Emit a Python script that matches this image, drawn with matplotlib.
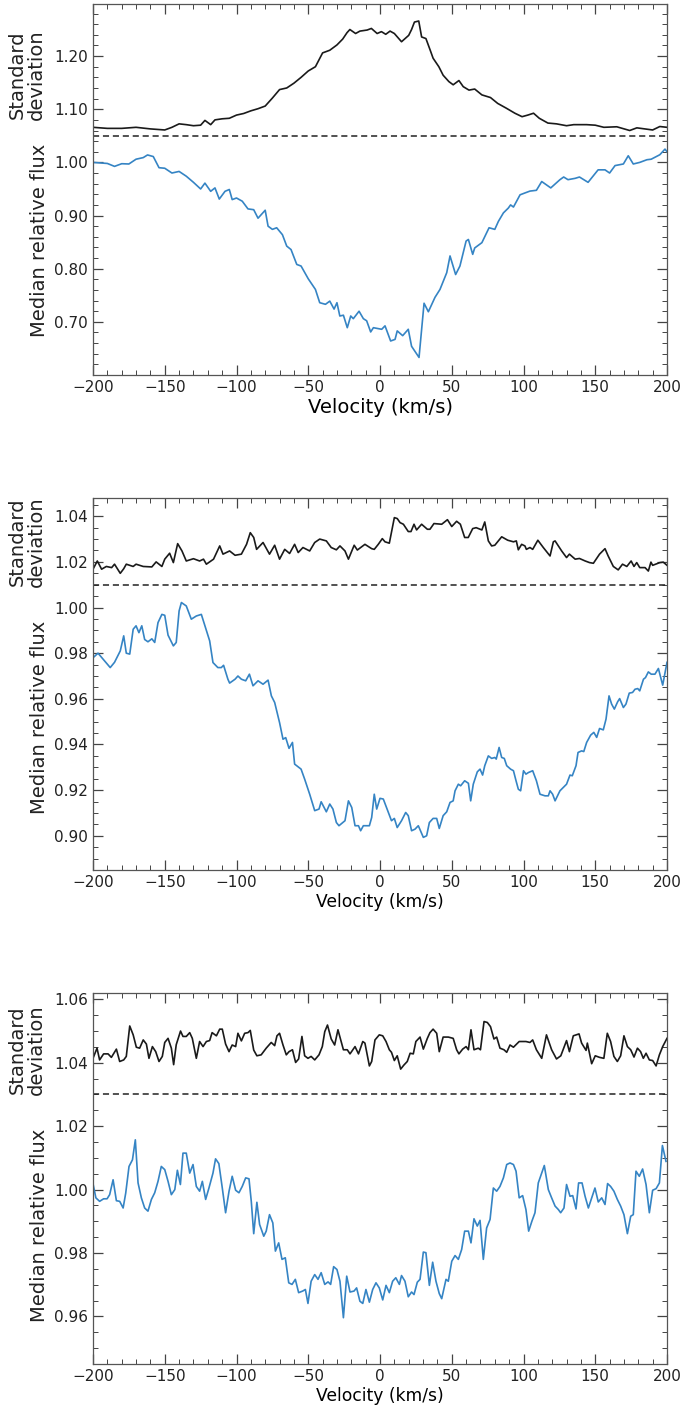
import numpy as np
import matplotlib.pyplot as plt
from matplotlib.ticker import MultipleLocator, FormatStrFormatter

# ---- line 1 ----
v1_std = [-200, -190, -180, -170, -160, -150, -145, -140, -135, -130, -125, -122, -118, -115,
          -110, -105, -100, -95, -90, -85, -80, -75, -70, -65, -60, -55, -50, -45, -40, -35,
          -30, -26, -23, -21, -17, -14, -9, -6, -2, 1, 4, 7, 10, 15, 20, 22, 24, 27, 29,
          32, 35, 37, 41, 44, 48, 51, 55, 58, 62, 66, 71, 77, 82, 88, 94, 99, 103, 107,
          111, 117, 123, 130, 135, 144, 150, 156, 165, 174, 179, 190, 195, 200]
std1 = [1.066, 1.064, 1.064, 1.066, 1.063, 1.061, 1.066, 1.0725, 1.071, 1.069, 1.070, 1.079, 1.071, 1.080,
        1.082, 1.083, 1.089, 1.092, 1.097, 1.101, 1.106, 1.121, 1.137, 1.140, 1.149, 1.160, 1.172, 1.180, 1.206, 1.211,
        1.221, 1.232, 1.244, 1.250, 1.2425, 1.247, 1.249, 1.252, 1.2425, 1.246, 1.241, 1.247, 1.2425, 1.227, 1.239, 1.250, 1.264, 1.266, 1.236,
        1.233, 1.211, 1.196, 1.180, 1.164, 1.152, 1.146, 1.154, 1.1425, 1.136, 1.138, 1.127, 1.122, 1.111, 1.102, 1.0925, 1.086, 1.089, 1.0925,
        1.083, 1.074, 1.0725, 1.069, 1.071, 1.071, 1.070, 1.066, 1.067, 1.060, 1.065, 1.061, 1.0675, 1.066]

v1_flux = [-200, -195, -190, -185, -180, -175, -170, -165, -162, -158, -154, -150, -145, -140, -135,
           -130, -125, -122, -118, -115, -112, -108, -105, -103, -100, -96, -92, -88, -85, -80,
           -78, -75, -72, -68, -65, -62, -58, -55, -50, -45, -42, -38, -35, -32, -30, -28,
           -25.5, -22.8, -20.4, -18.6, -14.6, -11.6, -9.3, -6.5, -4.6, 1.2, 3.5, 7.4, 10.5, 12,
           15.8, 19.7, 22, 27.2, 30.7, 33.7, 38.3, 41.8, 46.5, 48.8, 52.7, 55.7, 60, 61.6, 64.6,
           66, 71, 76, 80, 82.5, 86, 89.4, 91, 93, 97.6, 101, 104.5, 109, 112.7, 119, 125.4,
           128, 131, 136, 139, 145, 152, 156.8, 160, 163.8, 169.6, 173, 176.5, 181, 186, 189,
           195, 198.6, 200]
flux1 = [1.000, 0.999, 0.998, 0.9925, 0.9975, 0.997, 1.006, 1.009, 1.014, 1.011, 0.990, 0.989, 0.980, 0.983, 0.974,
         0.9625, 0.950, 0.961, 0.9456, 0.952, 0.931, 0.9456, 0.949, 0.930, 0.933, 0.927, 0.9125, 0.911, 0.895, 0.910,
         0.880, 0.874, 0.877, 0.864, 0.8425, 0.836, 0.808, 0.805, 0.781, 0.761, 0.736, 0.733, 0.739, 0.724, 0.736, 0.711,
         0.7125, 0.689, 0.711, 0.706, 0.720, 0.706, 0.702, 0.681, 0.689, 0.686, 0.6925, 0.664, 0.667, 0.683,
         0.674, 0.686, 0.654, 0.633, 0.735, 0.719, 0.746, 0.761, 0.7925, 0.824, 0.789, 0.805, 0.852, 0.855, 0.827,
         0.839, 0.849, 0.877, 0.874, 0.889, 0.905, 0.914, 0.920, 0.916, 0.939, 0.9425, 0.946, 0.9475, 0.964, 0.952, 0.9675,
         0.9725, 0.9675, 0.970, 0.9725, 0.9625, 0.986, 0.986, 0.980, 0.994, 0.997, 1.0125, 0.997, 1.000, 1.005, 1.006,
         1.0144, 1.025, 1.020]

# ---- line 2 ----
v2_std = [-200, -197, -194, -190.7, -187, -185, -181, -178.6, -176.8, -172, -170, -165, -159, -156,
          -152, -150, -146.6, -144, -141, -138, -135, -130, -125.7, -123, -121, -116, -111.7,
          -109.4, -104.8, -101, -96.6, -93, -90.4, -88, -86, -81.5, -77, -73.4, -70, -66.4,
          -63, -59.5, -57, -53.7, -49, -45.5, -42, -37.4, -34, -30.4, -27.9, -24.4, -22, -18,
          -15.8, -10.5, -5.8, -4, -1.2, 1.6, 3.5, 6.5, 10, 12, 14, 16.3, 19.7, 21.6, 23.7, 25.5,
          29, 33, 34.8, 37.6, 43, 47, 50, 53.4, 56, 59, 61.5, 64.6, 67, 71, 73, 75.5, 77.8, 80,
          84.8, 89, 93, 95, 96.4, 98.7, 101, 102, 104.5, 106.4, 110, 113.8, 118.5, 120.8, 122,
          126.6, 130, 132, 136, 139, 143, 146, 148.7, 151, 153, 156.8, 159, 162.6, 166, 169, 172,
          175, 177, 178.9, 181, 184.7, 187, 188.8, 190, 195, 197.4, 200]
std2 = [1.0168, 1.0204, 1.0168, 1.018, 1.0175, 1.019, 1.015, 1.0170, 1.019, 1.018, 1.019, 1.018, 1.0178, 1.020,
        1.018, 1.0212, 1.0238, 1.0197, 1.028, 1.0248, 1.0204, 1.0214, 1.0204, 1.0212, 1.019, 1.0212, 1.027,
        1.0234, 1.0248, 1.0229, 1.0234, 1.0277, 1.0328, 1.0307, 1.0255, 1.0285, 1.0234, 1.0273, 1.0212, 1.0255,
        1.0237, 1.0277, 1.0241, 1.0263, 1.0248, 1.0285, 1.030, 1.0292, 1.0263, 1.0253, 1.027, 1.0248, 1.0212, 1.0273,
        1.0252, 1.0277, 1.0258, 1.0255, 1.0277, 1.0302, 1.0288, 1.0282, 1.0394, 1.039, 1.0372, 1.0365, 1.0333, 1.0333, 1.0365, 1.034,
        1.0365, 1.0343, 1.0343, 1.0368, 1.0365, 1.0385, 1.0355, 1.0378, 1.0365, 1.0307, 1.0307, 1.0346, 1.035, 1.034, 1.0375, 1.0292, 1.027, 1.0273,
        1.031, 1.0295, 1.0288, 1.0292, 1.0253, 1.0277, 1.027, 1.0255, 1.0263, 1.0255, 1.0295, 1.0263, 1.0226, 1.0288, 1.0292,
        1.0248, 1.0219, 1.0234, 1.0212, 1.0215, 1.0204, 1.0197, 1.0194, 1.0215, 1.0234, 1.0258, 1.0226, 1.018, 1.0165, 1.019, 1.018,
        1.0204, 1.018, 1.0197, 1.0175, 1.0175, 1.016, 1.0199, 1.0185, 1.0197, 1.0199, 1.0185]

v2_flux = [-200, -196.5, -193, -188, -185, -181, -178.6, -176.8, -174.4, -172, -170, -168, -166,
           -164, -161.7, -159, -157, -154.7, -152, -150, -147.7, -144, -142, -140, -138.4, -135,
           -131.5, -128, -124.5, -122, -118.7, -116.4, -113, -110.6, -109, -106, -104.8, -101,
           -99, -96.6, -93.6, -91, -88.5, -85, -81.5, -78, -75.7, -73.4, -70, -67.6, -65.7,
           -63.4, -61, -59.5, -55, -52.5, -49, -45.5, -42.5, -41, -37.4, -35, -32.8, -30.4,
           -28.6, -24.4, -22, -19.7, -17.4, -15, -13.5, -11.6, -7.4, -5.8, -4, -2.3, 0, 2.3,
           5.8, 8, 10, 12, 15, 17.9, 19.7, 22, 24.4, 26.7, 30.2, 32.5, 34.4, 37, 39.5, 41.3,
           44, 46.5, 48.8, 51, 52.3, 54.6, 56.2, 59, 61.6, 63.2, 65, 67.8, 69.7, 71.5, 73, 75.5,
           77.8, 80, 81, 83, 84.8, 86.6, 88.3, 91, 93, 94.8, 96.4, 98, 100, 101.7, 103.4, 106.4,
           109, 111.5, 115, 117.3, 118.5, 120.3, 122, 125.4, 127.8, 130, 132.4, 134, 136.6, 138,
           140.5, 142, 144, 146.8, 149, 151, 153, 155.6, 157.5, 159.6, 161.4, 163.3, 165.6, 167,
           169.6, 171.4, 173.7, 176, 177.7, 179.6, 181, 183.6, 185, 187, 189, 191.6, 194, 197, 200]
flux2 = [0.978, 0.980, 0.9774, 0.9737, 0.976, 0.981, 0.9876, 0.980, 0.9796, 0.9905, 0.992, 0.989, 0.992,
         0.986, 0.985, 0.9863, 0.9847, 0.9934, 0.997, 0.9966, 0.9879, 0.9832, 0.9847, 0.9985, 1.0022, 1.0007,
         0.9949, 0.9963, 0.997, 0.992, 0.9854, 0.9759, 0.9737, 0.9737, 0.9747, 0.9686, 0.9669, 0.9686,
         0.970, 0.9686, 0.9679, 0.9708, 0.9657, 0.9679, 0.9664, 0.9682, 0.9613, 0.9584, 0.9496, 0.9423, 0.9430,
         0.9383, 0.9409, 0.9314, 0.9292, 0.9248, 0.9182, 0.911, 0.9117, 0.9149, 0.9105, 0.9139, 0.9117, 0.9058,
         0.9044, 0.9066, 0.9153, 0.9124, 0.9044, 0.9044, 0.9022, 0.9044, 0.9044, 0.908, 0.9182, 0.9117, 0.9164, 0.9161,
         0.9102, 0.9066, 0.9076, 0.9036, 0.9066, 0.9102, 0.9088, 0.9022, 0.9029, 0.9044, 0.8993, 0.9000, 0.9058, 0.9076, 0.9076, 0.9032,
         0.9088, 0.9105, 0.9146, 0.9153, 0.9197, 0.9226, 0.9219, 0.9241, 0.9230, 0.9153, 0.9226, 0.928, 0.9292, 0.9266, 0.9307, 0.935,
         0.9339, 0.9343, 0.9336, 0.9387, 0.9343, 0.9339, 0.9307, 0.9292, 0.9285, 0.9241, 0.9204, 0.9197, 0.9285, 0.9270, 0.9277, 0.9285,
         0.9241, 0.9182, 0.9175, 0.9175, 0.9197, 0.9182, 0.9153, 0.9197, 0.9212, 0.9226, 0.9266, 0.9263, 0.9307, 0.9365,
         0.9372, 0.9369, 0.9409, 0.9441, 0.9453, 0.9431, 0.947, 0.9464, 0.9511, 0.9613, 0.9577, 0.9555, 0.9587, 0.9601,
         0.9562, 0.9577, 0.9625, 0.9628, 0.9642, 0.9645, 0.9635, 0.9686, 0.9693, 0.9718, 0.9708, 0.9708, 0.9733, 0.966, 0.976]

# ---- line 3 ----
v3_std = [-200, -197.2, -195.4, -192.6, -189.5, -187.2, -183.7, -181.4, -178.6, -176.8, -174.4,
          -172, -169.8, -167.5, -165, -162.8, -161, -158.6, -156.3, -154, -151.7, -150, -147.7,
          -145.4, -143.8, -142, -139, -137.3, -135, -132.6, -130.8, -128, -125.7, -123.3, -121,
          -118.7, -117, -114, -111.7, -109.9, -107.6, -105.2, -103, -100.6, -99, -96.6, -94.3,
          -92, -90.4, -88, -85.8, -82.8, -79.3, -75.8, -73.4, -71.8, -70, -67.6, -65.3, -63.4,
          -61, -58.8, -56.7, -54.4, -52.5, -50.2, -48, -45.5, -42.5, -40.2, -38.5, -36.6, -34,
          -31.6, -29.3, -25.5, -22.8, -20.9, -17.4, -15, -12, -10.5, -7.4, -5.8, -3.5, -0.5,
          1.9, 4.2, 6.5, 8, 10, 12, 14.4, 16.7, 19, 21, 23.2, 25, 27.9, 30.2, 33, 34.8, 37,
          39.5, 41.3, 44, 47.6, 51, 53.4, 55, 57.6, 60, 61.6, 63.4, 65.5, 68.5, 70, 72.5, 74.8,
          77, 79.4, 81.3, 83.6, 86.4, 88.3, 90.6, 93, 97, 101.7, 104.5, 106.4, 109, 112.7, 116,
          119.6, 123, 126, 130, 132, 134.7, 138.7, 140.5, 143.6, 144.5, 147.5, 150, 153, 156,
          158.4, 160.7, 163, 165.4, 167.7, 170, 172.4, 174.7, 177, 179.4, 181.6, 183.5, 185.4,
          187.7, 190, 192.4, 194.7, 197, 200]
std3 = [1.0414, 1.0446, 1.0409, 1.0428, 1.0428, 1.0417, 1.0443, 1.0404, 1.0409, 1.0420, 1.0516,
        1.0488, 1.0449, 1.0446, 1.0472, 1.0459, 1.0414, 1.0451, 1.0435, 1.0404, 1.0420, 1.0464, 1.0477,
        1.0446, 1.0394, 1.0457, 1.0500, 1.0483, 1.0483, 1.0495, 1.0477, 1.0414, 1.0467, 1.0451, 1.0467,
        1.0470, 1.0495, 1.0485, 1.0506, 1.0506, 1.0459, 1.0435, 1.0456, 1.0451, 1.0493, 1.0469, 1.0493,
        1.0495, 1.0502, 1.0440, 1.0422, 1.0425, 1.0446, 1.0464, 1.0454, 1.0485, 1.0493, 1.0456, 1.0425, 1.0435,
        1.0441, 1.0401, 1.0412, 1.0483, 1.0422, 1.0414, 1.0420, 1.0409, 1.0425, 1.0451, 1.0498, 1.0519, 1.0475,
        1.0456, 1.0504, 1.0441, 1.0441, 1.0428, 1.0451, 1.0428, 1.0467, 1.0462, 1.0390, 1.0404, 1.0472, 1.0488,
        1.0485, 1.0467, 1.0441, 1.0433, 1.0407, 1.0422, 1.0380, 1.0393, 1.0404, 1.0430, 1.0428, 1.0467, 1.0481, 1.0443, 1.0477, 1.0495, 1.0506,
        1.0493, 1.0435, 1.0481, 1.0481, 1.0477, 1.0441, 1.0428, 1.0443, 1.0451, 1.0441, 1.0504, 1.0441, 1.0446, 1.0441, 1.0530, 1.0527,
        1.0514, 1.0475, 1.0481, 1.0446, 1.0441, 1.0433, 1.0456, 1.0449, 1.0467, 1.0467, 1.0464, 1.0472, 1.0441, 1.0414, 1.0488,
        1.0441, 1.0412, 1.0422, 1.0470, 1.0435, 1.0485, 1.0491, 1.0462, 1.0439, 1.0462, 1.0397, 1.0422, 1.0417, 1.0414,
        1.0493, 1.0467, 1.0420, 1.0404, 1.0422, 1.0485, 1.0451, 1.0441, 1.0418, 1.0446, 1.0435, 1.0414, 1.0430,
        1.0409, 1.0407, 1.0390, 1.0425, 1.0451, 1.0477]

v3_flux = [-200, -198, -195.4, -192.6, -190.2, -188.4, -186, -183.7, -181.4, -179, -177.2, -174.9,
           -172.5, -170.5, -168.6, -166.3, -164, -161.7, -159.3, -157, -154.7, -152.4, -150, -147.7,
           -145.4, -143, -141.2, -139.1, -137.3, -135, -132.6, -130.3, -128, -125.7, -123.8, -121.5,
           -119.2, -116.4, -114.6, -112.3, -109.9, -107.6, -105.2, -103, -100.6, -98.3, -96, -93.6,
           -91.3, -89.7, -88, -85.8, -83.9, -81, -79.3, -77, -74.7, -72.9, -70.6, -68.3, -66, -63.6,
           -61.3, -59, -56.7, -53.9, -52, -50.2, -48, -45.5, -43.2, -41, -38.5, -36.2, -34.4, -32.3,
           -30, -27.9, -25.5, -23.2, -20.9, -18.1, -16.3, -14, -12, -9.8, -7.4, -5.1, -2.8, -0.5,
           1.9, 4.2, 6.5, 8.8, 11, 13.5, 15, 17.4, 19.7, 22, 23.7, 26, 27.9, 30.2, 32, 34.4, 36.7,
           39, 41.3, 43, 46, 47.6, 50, 52.3, 54.6, 56.9, 59, 61.6, 63.4, 65.5, 67.8, 69.7, 72, 74.3,
           76.7, 79, 81.3, 83.6, 86, 88.3, 90.6, 93, 94.8, 97, 99.4, 101.7, 103.6, 105.9, 108,
           110.3, 112.7, 114.5, 117.3, 119.6, 122, 124.3, 125.9, 128.2, 130, 132.4, 134.3, 136.6,
           138.4, 140.8, 142.9, 145.2, 147.5, 149.8, 152.1, 154.5, 156.8, 158.6, 160.7, 163, 165.4,
           167.7, 170, 172.4, 174.7, 176.5, 178.4, 180.7, 183, 185.4, 187.7, 190, 192.4, 194.7,
           196.8, 199.3]
flux3 = [1.0019, 0.9974, 0.9963, 0.9971, 0.9971, 0.9984, 1.0031, 0.9965, 0.9963, 0.9942, 0.9989, 1.0073,
         1.0094, 1.0157, 1.0021, 0.9974, 0.9942, 0.9932, 0.9969, 0.9990, 1.0026, 1.0073, 1.0063, 1.0026,
         0.9984, 1.0000, 1.0061, 1.0016, 1.0115, 1.0115, 1.0052, 1.0079, 1.0010, 0.9995, 1.0026, 0.9969,
         1.0005, 1.0052, 1.0097, 1.0082, 1.0005, 0.9927, 0.9995, 1.0042, 0.9998, 0.9990, 1.0010, 1.0037,
         1.0034, 0.9963, 0.9861, 0.9960, 0.9890, 0.9853, 0.9869, 0.9921, 0.9895, 0.9806, 0.9832, 0.9780, 0.9785, 0.9706,
         0.9701, 0.9717, 0.9675, 0.9680, 0.9685, 0.9641, 0.9711, 0.9732, 0.9717, 0.9738, 0.9701, 0.9709, 0.9701, 0.9757,
         0.9748, 0.9711, 0.9596, 0.9727, 0.9677, 0.9680, 0.9690, 0.9648, 0.9641, 0.9685, 0.9645, 0.9685, 0.9706, 0.9690,
         0.9652, 0.9698, 0.9675, 0.9711, 0.9722, 0.9701, 0.9729, 0.9711, 0.9662, 0.9677, 0.9669, 0.9708, 0.9717, 0.9803, 0.9801, 0.9698, 0.9771,
         0.9711, 0.9672, 0.9656, 0.9717, 0.9711, 0.9774, 0.9792, 0.9780, 0.9811, 0.9869, 0.9869, 0.9832, 0.9908, 0.9885, 0.9903, 0.9780, 0.9879,
         0.9906, 1.0005, 0.9995, 1.0010, 1.0037, 1.0079, 1.0084, 1.0079, 1.0058, 0.9974, 0.9981, 0.9937, 0.9869, 0.9901, 0.9927,
         1.0021, 1.0052, 1.0076, 1.0000, 0.9974, 0.9948, 0.9937, 0.9927, 0.9942, 1.0016, 0.9979, 0.9981, 0.9939,
         1.0021, 1.0021, 0.9979, 0.9942, 0.9974, 1.0005, 0.9961, 0.9974, 0.9953, 1.0019, 1.0010, 0.9995, 0.9969,
         0.9948, 0.9921, 0.9861, 0.9916, 0.9921, 1.0058, 1.0042, 1.0065, 1.0016, 0.9927, 0.9998, 1.0003, 1.0021,
         1.0139, 1.0089]

# per-panel settings: y range, tick steps, dashed separator level, label placement
panels = [
    dict(v_std=v1_std, std=std1, v_flux=v1_flux, flux=flux1, ylim=(0.6, 1.298), minor=0.02,
         sep=1.05, ticks=[0.70, 0.80, 0.90, 1.00, 1.10, 1.20], xl=14,
         box=(4, 375), y_flux=240, y_std=75),
    dict(v_std=v2_std, std=std2, v_flux=v2_flux, flux=flux2, ylim=(0.885, 1.048), minor=0.005,
         sep=1.01, ticks=[0.90, 0.92, 0.94, 0.96, 0.98, 1.00, 1.02, 1.04], xl=12.3,
         box=(498, 870), y_flux=717, y_std=542),
    dict(v_std=v3_std, std=std3, v_flux=v3_flux, flux=flux3, ylim=(0.945, 1.062), minor=0.005,
         sep=1.03, ticks=[0.96, 0.98, 1.00, 1.02, 1.04, 1.06], xl=12.3,
         box=(993, 1364), y_flux=1225, y_std=1050),
]

W, H = 681, 1408
fig = plt.figure(figsize=(W / 100, H / 100), dpi=100)
left, right = 93, 667
blue = '#3584c4'

for p in panels:
    top, bot = p['box']
    h = bot - top
    ax = fig.add_axes([left / W, 1 - bot / H, (right - left) / W, h / H])
    ax.plot(p['v_flux'], p['flux'], color=blue, lw=1.2)
    ax.plot(p['v_std'], p['std'], color='#1a1a1a', lw=1.2)
    ax.axhline(p['sep'], color='#222222', lw=1.1, ls='--', dashes=(4, 2.5))
    ax.set_xlim(-200, 200)
    ax.set_ylim(*p['ylim'])
    ax.set_yticks(p['ticks'])
    ax.yaxis.set_major_formatter(FormatStrFormatter('%.2f'))
    ax.xaxis.set_major_locator(MultipleLocator(50))
    ax.xaxis.set_minor_locator(MultipleLocator(10))
    ax.yaxis.set_minor_locator(MultipleLocator(p['minor']))
    ax.tick_params(which='both', direction='in', top=True, right=True,
                   color='#444444', labelsize=11, labelcolor='#222222')
    ax.tick_params(which='major', length=7, width=0.9)
    ax.tick_params(which='minor', length=3.5, width=0.7)
    for s in ax.spines.values():
        s.set_color('#555555')
        s.set_linewidth(0.9)
    ax.set_xlabel('Velocity (km/s)', fontsize=p['xl'], labelpad=2)

    # two y labels: flux below the separator, standard deviation above it
    ax.text((40 - left) / (right - left), 1 - (p['y_flux'] - top) / h,
            'Median relative flux', rotation=90, ha='center', va='center',
            fontsize=14, color='#222222', transform=ax.transAxes)
    ax.text((27 - left) / (right - left), 1 - (p['y_std'] - top) / h,
            'Standard\ndeviation', rotation=90, ha='center', va='center',
            fontsize=14, color='#222222', transform=ax.transAxes, linespacing=1.0)

fig.savefig('out.png', dpi=100)
